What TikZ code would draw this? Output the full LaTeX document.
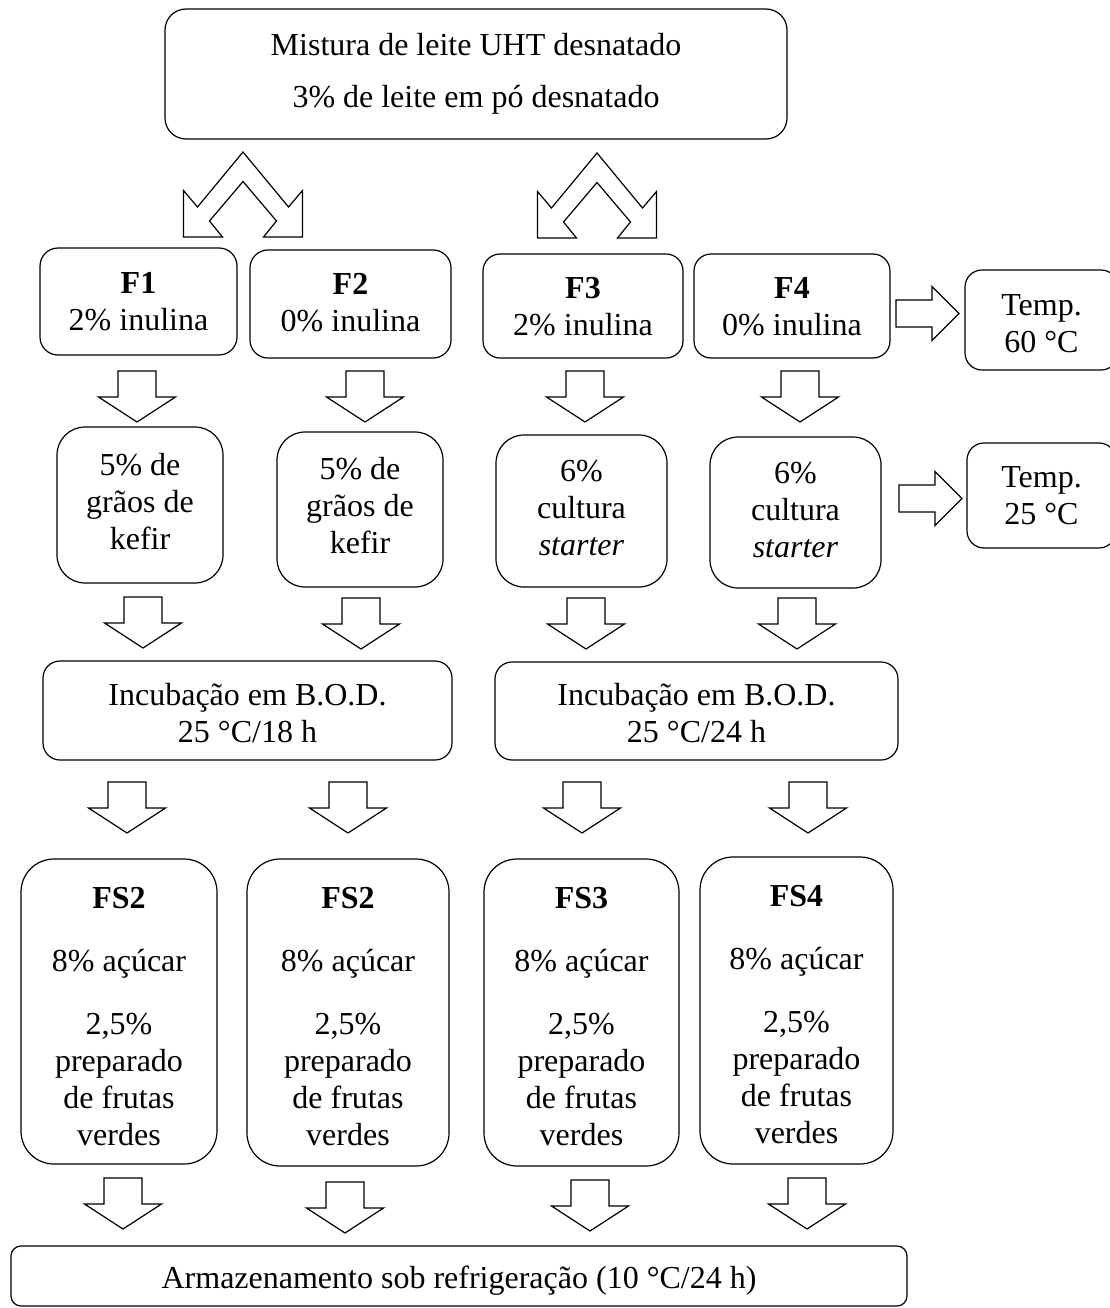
\documentclass[tikz,border=0pt]{standalone}
\usepackage{fontspec}
\setmainfont{Liberation Serif}
\newcommand\myup[1]{\rule{0pt}{#1pt}}
\newcommand\mydn{\rule[-8pt]{0pt}{8pt}}
\tikzset{
  box/.style={draw, line width=1.2pt, align=center, inner sep=1pt,
    font=\fontsize{32}{37}\selectfont},
  sz/.style n args={3}{minimum width=#1pt, minimum height=#2pt, rounded corners=#3pt},
  arrline/.style={draw, line width=1.2pt, fill=white, line join=miter},
  downarr/.pic={\path[arrline] (-19,0) -- (19,0) -- (19,26) -- (38.5,26)
      -- (0,51) -- (-38.5,26) -- (-19,26) -- cycle;},
  rightarr/.pic={\path[arrline] (0,-13.5) -- (36,-13.5) -- (36,-27) -- (63,0)
      -- (36,27) -- (36,13.5) -- (0,13.5) -- cycle;},
  chevron/.pic={\path[arrline] (0,0) -- (-45.5,55) -- (-59.5,38.5) -- (-59.5,85)
      -- (-20.5,85) -- (-33.5,69) -- (0,29.5) -- (33.5,69) -- (20.5,85)
      -- (59.5,85) -- (59.5,38.5) -- (45.5,55) -- cycle;}
}
\begin{document}
\begin{tikzpicture}[x=1pt,y=-1pt]
\path[use as bounding box, fill=white] (0,0) rectangle (1110,1308);

% top box
\node[box, sz={622}{130}{21}] (top) at (476,74)
  {\myup{22}Mistura de leite UHT desnatado\\[15pt]3\% de leite em pó desnatado\mydn};

% splitting arrows
\pic at (243,152) {chevron};
\pic at (597,153) {chevron};

% formulations
\node[box, sz={197}{107}{18}] (f1) at (138.5,301.5) {\myup{28}\textbf{F1}\\2\% inulina\mydn};
\node[box, sz={201}{108}{18}] (f2) at (350.5,304) {\myup{26}\textbf{F2}\\0\% inulina\mydn};
\node[box, sz={200}{104}{17}] (f3) at (583,306) {\myup{29}\textbf{F3}\\2\% inulina\mydn};
\node[box, sz={196}{104}{17}] (f4) at (792,306) {\myup{29}\textbf{F4}\\0\% inulina\mydn};
\node[box, sz={153}{100}{17}] (t60) at (1041.5,320) {\myup{35}Temp.\\60 °C\mydn};

\pic at (896,313.5) {rightarr};

\pic at (137,371) {downarr};
\pic at (365,371) {downarr};
\pic at (585,371) {downarr};
\pic at (800,371) {downarr};

% inocula
\node[box, sz={166}{156}{28}] (k1) at (140,505) {\myup{22}5\% de\\grãos de\\kefir\mydn};
\node[box, sz={166}{155}{28}] (k2) at (360,509.5) {\myup{22}5\% de\\grãos de\\kefir\mydn};
\node[box, sz={171}{152}{28}] (s3) at (581.5,511) {\myup{23}6\%\\cultura\\\textit{starter}\mydn};
\node[box, sz={171}{151}{28}] (s4) at (795.5,512.5) {\myup{23}6\%\\cultura\\\textit{starter}\mydn};
\node[box, sz={149}{105}{17}] (t25) at (1041.5,495.5) {\myup{28}Temp.\\25 °C\mydn};

\pic at (899,498.5) {rightarr};

\pic at (143,597) {downarr};
\pic at (361,598) {downarr};
\pic at (586,598) {downarr};
\pic at (797,598) {downarr};

% incubation
\node[box, sz={409}{99}{17}] (il) at (247.5,710.5) {\myup{35}Incubação em B.O.D.\\25 °C/18 h\mydn};
\node[box, sz={403}{98}{17}] (ir) at (696.5,711) {\myup{34}Incubação em B.O.D.\\25 °C/24 h\mydn};

\pic at (127,782) {downarr};
\pic at (348,782) {downarr};
\pic at (582,782) {downarr};
\pic at (808,782) {downarr};

% final formulations
\node[box, sz={196}{305}{33}] (fs1) at (119,1011.5)
  {\myup{39}\textbf{FS2}\\[26pt]8\% açúcar\\[26pt]2,5\%\\preparado\\de frutas\\verdes\mydn};
\node[box, sz={202}{307}{33}] (fs2) at (348,1012.5)
  {\myup{37}\textbf{FS2}\\[26pt]8\% açúcar\\[26pt]2,5\%\\preparado\\de frutas\\verdes\mydn};
\node[box, sz={195}{307}{33}] (fs3) at (581.5,1012.5)
  {\myup{37}\textbf{FS3}\\[26pt]8\% açúcar\\[26pt]2,5\%\\preparado\\de frutas\\verdes\mydn};
\node[box, sz={193}{307}{33}] (fs4) at (796.5,1010.5)
  {\myup{37}\textbf{FS4}\\[26pt]8\% açúcar\\[26pt]2,5\%\\preparado\\de frutas\\verdes\mydn};

\pic at (123,1178) {downarr};
\pic at (345,1182) {downarr};
\pic at (590,1180) {downarr};
\pic at (807,1178) {downarr};

% storage
\node[box, sz={896}{60}{10}] (st) at (459,1276)
  {\myup{32}Armazenamento sob refrigeração (10 °C/24 h)\mydn};
\end{tikzpicture}
\end{document}
